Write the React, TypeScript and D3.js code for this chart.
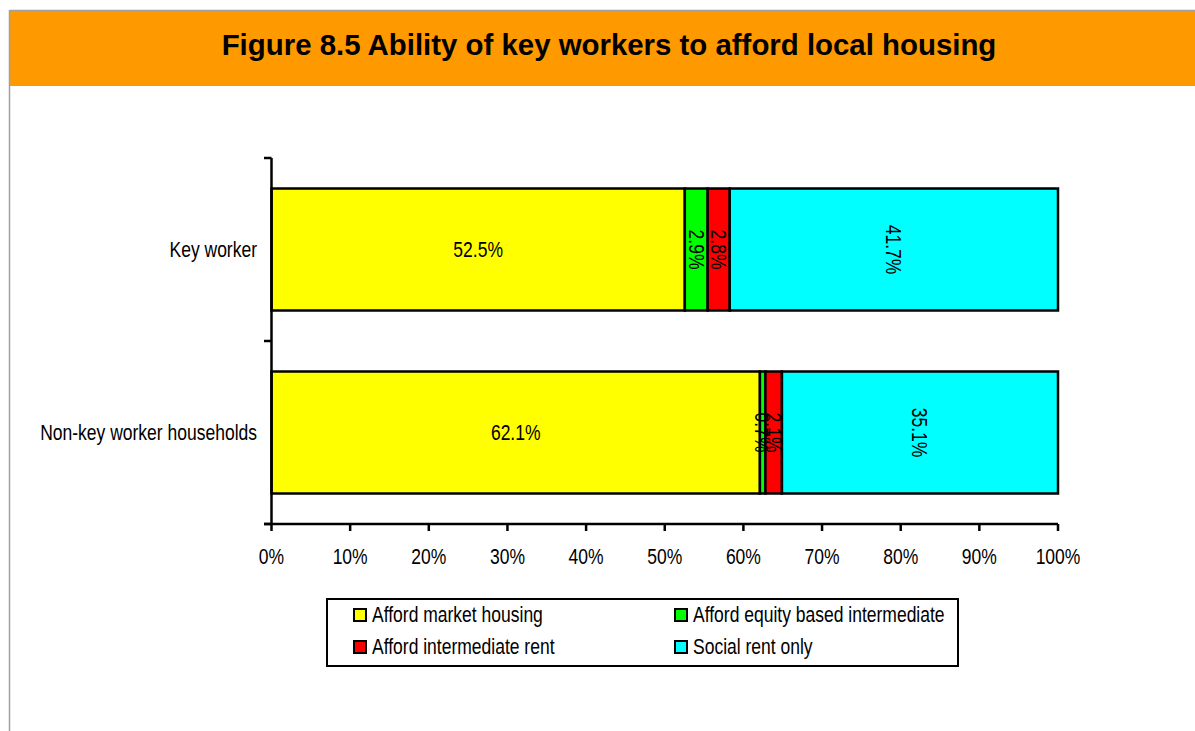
import React from "react";
import * as d3 from "d3";

const categories = ["Key worker", "Non-key worker households"];
const seriesNames = [
  "Afford market housing",
  "Afford equity based intermediate",
  "Afford intermediate rent",
  "Social rent only",
];
const seriesColors = ["#FFFF00", "#00FF00", "#FF0000", "#00FFFF"];
const keyWorker = [52.5, 2.9, 2.8, 41.7];
const nonKeyWorker = [62.1, 0.7, 2.1, 35.1];
const xTicks = [0, 10, 20, 30, 40, 50, 60, 70, 80, 90, 100];
const title = "Figure 8.5 Ability of key workers to afford local housing";

const W = 1195;
const H = 731;
const FONT = "Liberation Sans, Arial, sans-serif";
const FS = 17.5;
const SY = 1.22;

function T({ x, y, anchor = "start", rotate = 0, children }: any) {
  return (
    <text
      transform={`translate(${x},${y}) rotate(${rotate}) scale(1,${SY})`}
      textAnchor={anchor}
      dy="0.35em"
      fontSize={FS}
      fill="#000"
    >
      {children}
    </text>
  );
}

export default function App() {
  const rows = [keyWorker, nonKeyWorker];
  const x = d3.scaleLinear().domain([0, 100]).range([271.5, 1058]);
  const y = d3.scaleBand().domain(categories).range([158, 524]).paddingInner(1 / 3).paddingOuter(1 / 6);
  const yTickPos = [158, 341, 524];

  const stacked = rows.map((vals) => {
    const total = d3.sum(vals);
    let acc = 0;
    return vals.map((v, i) => {
      const p = (v / total) * 100;
      const s = { x0: acc, x1: acc + p, v, i };
      acc += p;
      return s;
    });
  });

  const legendCols = [354, 675];
  const legendRows = [615, 647];

  return (
    <svg width={W} height={H} style={{ position: "absolute", left: 0, top: 0 }} fontFamily={FONT}>
      <rect x={0} y={0} width={W} height={H} fill="#fff" />
      <rect x={10} y={11} width={W - 10} height={75} fill="#FF9900" />
      <line x1={10} y1={10.5} x2={W} y2={10.5} stroke="#a0a0a0" strokeWidth={1.5} />
      <line x1={9.5} y1={10} x2={9.5} y2={H} stroke="#a0a0a0" strokeWidth={1.5} />
      <text x={609} y={55} textAnchor="middle" fontSize={29.4} fontWeight="bold" fill="#000">
        {title}
      </text>

      {categories.map((c, ci) => {
        const y0 = y(c)!;
        const bh = y.bandwidth();
        const cy = y0 + bh / 2;
        return (
          <g key={c}>
            {stacked[ci].map((s) => (
              <rect
                key={s.i}
                x={x(s.x0)}
                y={y0}
                width={x(s.x1) - x(s.x0)}
                height={bh}
                fill={seriesColors[s.i]}
                stroke="#000"
                strokeWidth={2.5}
              />
            ))}
            {stacked[ci].map((s) => {
              const cx = (x(s.x0) + x(s.x1)) / 2;
              const label = `${s.v.toFixed(1)}%`;
              return (
                <T key={"l" + s.i} x={cx} y={cy} anchor="middle" rotate={s.i === 0 ? 0 : 90}>
                  {label}
                </T>
              );
            })}
            <T x={257} y={cy} anchor="end">
              {c}
            </T>
          </g>
        );
      })}

      <line x1={271.5} y1={158} x2={271.5} y2={525} stroke="#000" strokeWidth={2.5} />
      {yTickPos.map((t, i) => (
        <line key={i} x1={264} x2={271.5} y1={t} y2={t} stroke="#000" strokeWidth={2.5} />
      ))}
      <line x1={264} y1={524} x2={1058} y2={524} stroke="#000" strokeWidth={2.5} />
      {xTicks.map((t) => (
        <g key={t}>
          <line x1={x(t)} x2={x(t)} y1={524} y2={531} stroke="#000" strokeWidth={2.5} />
          <T x={x(t)} y={557} anchor="middle">
            {`${t}%`}
          </T>
        </g>
      ))}

      <rect x={327} y={599} width={631} height={67} fill="#fff" stroke="#000" strokeWidth={2} />
      {seriesNames.map((n, i) => {
        const lx = legendCols[i % 2];
        const ly = legendRows[Math.floor(i / 2)];
        return (
          <g key={n}>
            <rect x={lx} y={ly - 6} width={12} height={12} fill={seriesColors[i]} stroke="#000" strokeWidth={2} />
            <T x={lx + 18} y={ly}>
              {n}
            </T>
          </g>
        );
      })}
    </svg>
  );
}
